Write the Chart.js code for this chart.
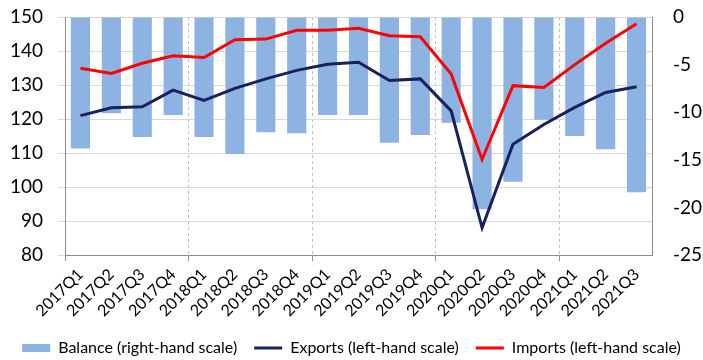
<!DOCTYPE html>
<html>
<head>
<meta charset="utf-8">
<style>
html,body{margin:0;padding:0;background:#fff;}
#wrap{width:703px;height:360px;}
</style>
<script src="https://cdn.jsdelivr.net/npm/chart.js@4"></script>
</head>
<body>
<div id="wrap"><canvas id="c" width="703" height="360"></canvas></div>
<script>
const categories = ["2017Q1","2017Q2","2017Q3","2017Q4","2018Q1","2018Q2","2018Q3","2018Q4","2019Q1","2019Q2","2019Q3","2019Q4","2020Q1","2020Q2","2020Q3","2020Q4","2021Q1","2021Q2","2021Q3"];
const balance = [-13.8,-10.1,-12.6,-10.3,-12.6,-14.4,-12.1,-12.2,-10.3,-10.3,-13.2,-12.4,-11.1,-20.2,-17.3,-10.8,-12.5,-13.9,-18.4];
const exportsIdx = [121.0,123.3,123.6,128.5,125.5,129.0,131.8,134.3,136.1,136.7,131.3,131.8,122.4,88.0,112.6,118.4,123.4,127.8,129.5];
const importsIdx = [134.9,133.4,136.4,138.6,138.1,143.3,143.5,146.1,146.1,146.7,144.5,144.2,133.2,108.1,129.8,129.3,136.0,142.3,148.0];
const leftTicks = {min:80, max:150, step:10};
const rightTicks = {min:-25, max:0, step:5};
const seriesNames = ["Balance (right-hand scale)","Exports (left-hand scale)","Imports (left-hand scale)"];

const FONT = "Lato";
const AXIS = "#8c8c8c";

new Chart(document.getElementById('c'), {
  data: {
    labels: categories,
    datasets: [
      {type:'bar', label:seriesNames[0], data:balance, yAxisID:'yR', backgroundColor:'#8db3e2', borderWidth:0,
       categoryPercentage:1, barPercentage:0.62, order:3},
      {type:'line', label:seriesNames[1], data:exportsIdx, yAxisID:'yL', borderColor:'#1a1f5e', backgroundColor:'#1a1f5e',
       borderWidth:3, pointRadius:0, tension:0, order:2},
      {type:'line', label:seriesNames[2], data:importsIdx, yAxisID:'yL', borderColor:'#ff0000', backgroundColor:'#ff0000',
       borderWidth:3, pointRadius:0, tension:0, order:1}
    ]
  },
  options: {
    responsive:false, animation:false, devicePixelRatio:1,
    layout:{padding:{top:17,left:0,right:0,bottom:-6}},
    plugins:{
      tooltip:{enabled:false},
      legend:{
        position:'bottom',
        labels:{
          font:{family:FONT,size:16}, color:'#000',
          usePointStyle:true, pointStyleWidth:28, boxHeight:8, padding:17,
          sort:(a,b)=>a.datasetIndex-b.datasetIndex,
          generateLabels:(chart)=>{
            const items = Chart.defaults.plugins.legend.labels.generateLabels(chart);
            items.forEach(it=>{
              const ds = chart.data.datasets[it.datasetIndex];
              if (ds.type==='line'){ it.pointStyle='line'; it.strokeStyle=ds.borderColor; it.lineWidth=3; }
              else { it.pointStyle='rect'; it.fillStyle=ds.backgroundColor; it.lineWidth=0; it.strokeStyle=ds.backgroundColor; }
            });
            return items;
          }
        }
      }
    },
    scales:{
      x:{
        type:'category', offset:true,
        grid:{offset:true, drawOnChartArea:true, drawTicks:true, tickLength:6,
          color:(ctx)=> (ctx.index>0 && ctx.index%4===0 && ctx.index<categories.length) ? '#bfbfbf' : 'rgba(0,0,0,0)',
          tickColor:(ctx)=> (ctx.index%4===0) ? AXIS : 'rgba(0,0,0,0)', lineWidth:1},
        border:{display:true, color:AXIS, width:1, dash:[3,3]},
        ticks:{font:{family:FONT,size:16}, color:'#000', maxRotation:45, minRotation:45, autoSkip:false, padding:4},
        afterFit:(s)=>{ s.height = 68; }
      },
      yL:{
        type:'linear', position:'left', min:leftTicks.min, max:leftTicks.max,
        ticks:{stepSize:leftTicks.step, font:{family:FONT,size:19}, color:'#000', padding:15},
        grid:{color:'#d9d9d9', lineWidth:1, drawTicks:true, tickLength:7, tickColor:'#d9d9d9'},
        border:{display:true, color:AXIS, width:1},
        afterFit:(s)=>{ s.width = 65; s.paddingTop = 0; s.paddingBottom = 0; }
      },
      yR:{
        type:'linear', position:'right', min:rightTicks.min, max:rightTicks.max,
        ticks:{stepSize:rightTicks.step, font:{family:FONT,size:19}, color:'#000', padding:21},
        grid:{drawOnChartArea:false, drawTicks:false},
        border:{display:true, color:AXIS, width:1},
        afterFit:(s)=>{ s.width = 51; s.paddingTop = 0; s.paddingBottom = 0; }
      }
    }
  }
});
</script>
</body>
</html>
